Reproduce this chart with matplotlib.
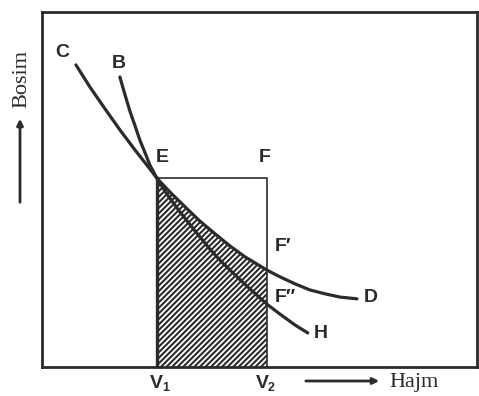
import matplotlib
matplotlib.use("Agg")
import matplotlib.pyplot as plt
import numpy as np

# isotherm C -> E -> F' -> D (volume, pressure in arbitrary units 0..100)
iso_v = [7.8, 11.0, 14.5, 17.9, 21.4, 24.8, 26.4, 29.4, 32.9, 36.3, 39.8,
         43.2, 46.7, 50.1, 51.7, 54.7, 58.2, 61.6, 65.1, 68.5, 72.4]
iso_p = [85.1, 78.9, 72.7, 66.8, 61.1, 55.8, 53.2, 49.3, 45.1, 41.1, 37.5,
         34.1, 31.0, 28.5, 27.3, 25.4, 23.4, 21.7, 20.6, 19.7, 19.2]

# adiabat B -> E -> F'' -> H
adi_v = [17.9, 19.1, 20.2, 21.4, 22.5, 23.7, 24.8, 26.4, 28.7, 31.7, 35.2,
         38.6, 40.9, 44.4, 47.8, 51.7, 54.7, 58.2, 61.1]
adi_p = [81.7, 76.6, 72.1, 67.9, 63.9, 60.3, 56.9, 53.2, 48.7, 43.7, 38.3,
         33.2, 30.1, 25.9, 22.0, 17.7, 14.9, 11.8, 9.6]

v1, v2 = 26.4, 51.7
p_e = 53.2

ink = "#2b2b2b"
sans = ["Liberation Sans", "DejaVu Sans"]
serif = ["Liberation Serif", "DejaVu Serif"]

fig = plt.figure(figsize=(4.79, 3.96), dpi=100)
fig.patch.set_facecolor("white")
ax = fig.add_axes([42 / 479, 1 - 367 / 396, 435 / 479, 355 / 396])
ax.set_xlim(0, 100)
ax.set_ylim(0, 100)
ax.set_xticks([])
ax.set_yticks([])
for s in ax.spines.values():
    s.set_linewidth(2.0)
    s.set_color(ink)

# hatched work area under the isotherm between V1 and V2
iv = np.array(iso_v)
ip = np.array(iso_p)
m = (iv >= v1) & (iv <= v2)
plt.rcParams["hatch.color"] = ink
plt.rcParams["hatch.linewidth"] = 1.5
ax.fill_between(iv[m], 0, ip[m], facecolor="white", edgecolor=ink,
                hatch="//////", linewidth=0)
ax.plot([v1, v1], [0, p_e], color=ink, lw=2.4)

# rectangle E-F-V2
ax.plot([v1, v2, v2], [p_e, p_e, 0], color=ink, lw=1.2)

ax.plot(iso_v, iso_p, color=ink, lw=2.3, solid_capstyle="round",
        solid_joinstyle="round")
ax.plot(adi_v, adi_p, color=ink, lw=2.3, solid_capstyle="round",
        solid_joinstyle="round")

lab = dict(fontsize=14, fontweight="bold", color=ink, family=sans,
           ha="center", va="center")
ax.text(4.6, 88.5, "C", **lab)
ax.text(17.7, 85.5, "B", **lab)
ax.text(27.6, 59.0, "E", **lab)
ax.text(51.3, 59.0, "F", **lab)
ax.text(55.5, 34.0, "F′", **lab)
ax.text(56.0, 19.5, "F″", **lab)
ax.text(75.5, 19.5, "D", **lab)
ax.text(64.0, 9.5, "H", **lab)

# axis labels below / left of the frame
sub = dict(fontsize=9, fontweight="bold", color=ink, family=sans,
           ha="left", va="center")
fig.text(156 / 479, 1 - 383 / 396, "V", **lab)
fig.text(162 / 479, 1 - 388 / 396, "1", **sub)
fig.text(262 / 479, 1 - 383 / 396, "V", **lab)
fig.text(268 / 479, 1 - 388 / 396, "2", **sub)

fig.text(414 / 479, 1 - 382 / 396, "Hajm", fontsize=16, color=ink,
         family=serif, ha="center", va="center")
fig.text(22 / 479, 1 - 79 / 396, "Bosim", fontsize=16, color=ink,
         family=serif, ha="center", va="center", rotation=90)

fig.add_artist(matplotlib.patches.FancyArrowPatch(
    (303 / 479, 1 - 381 / 396), (382 / 479, 1 - 381 / 396),
    transform=fig.transFigure, arrowstyle="-|>", mutation_scale=9,
    color=ink, lw=2.0))
fig.add_artist(matplotlib.patches.FancyArrowPatch(
    (20 / 479, 1 - 205 / 396), (20 / 479, 1 - 116 / 396),
    transform=fig.transFigure, arrowstyle="-|>", mutation_scale=9,
    color=ink, lw=2.0))

fig.savefig("out.png", dpi=100, facecolor="white")
